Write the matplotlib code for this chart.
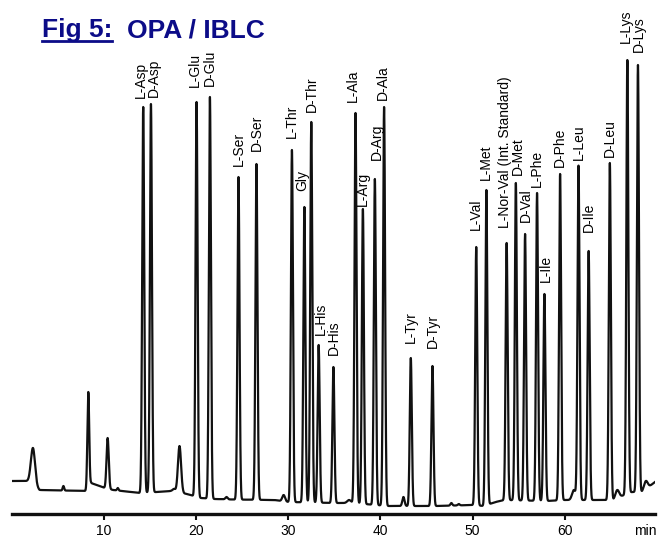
import numpy as np
import matplotlib.pyplot as plt
from matplotlib.lines import Line2D

plt.rcParams['font.family'] = ['Liberation Sans', 'DejaVu Sans']

# labelled peaks: name, retention time (min), apex signal (arbitrary units)
peak_names = ['L-Asp', 'D-Asp', 'L-Glu', 'D-Glu', 'L-Ser', 'D-Ser', 'L-Thr', 'Gly',
              'D-Thr', 'L-His', 'D-His', 'L-Ala', 'L-Arg', 'D-Arg', 'D-Ala', 'L-Tyr',
              'D-Tyr', 'L-Val', 'L-Met', 'L-Nor-Val (Int. Standard)', 'D-Met', 'D-Val',
              'L-Phe', 'L-Ile', 'D-Phe', 'L-Leu', 'D-Ile', 'D-Leu', 'L-Lys', 'D-Lys']
peak_rt = [14.26, 15.1, 20.05, 21.5, 24.6, 26.55, 30.4, 31.75, 32.5, 33.3, 34.9,
           37.3, 38.1, 39.4, 40.4, 43.3, 45.65, 50.4, 51.5, 53.7, 54.7, 55.7,
           57.0, 57.8, 59.5, 61.5, 62.6, 64.9, 66.8, 67.95]
peak_apex = [407, 410, 412, 417, 337, 350, 364, 307, 392, 169, 147, 401, 305, 335,
             407, 156, 148, 267, 324, 271, 331, 280, 321, 220, 340, 348, 263, 351,
             454, 449]

# small unlabelled peaks
minor_rt = [2.3, 5.6, 8.3, 10.4, 11.5, 17.6, 18.2, 23.3, 29.5, 36.6, 42.5, 47.7,
            48.5, 61.0, 65.7, 68.8]
minor_apex = [66, 28, 122, 76, 26, 25, 68, 17, 19, 14, 17, 11, 10, 24, 24, 33]
minor_sigma = [0.22, 0.08, 0.1, 0.12, 0.08, 0.15, 0.17, 0.12, 0.15, 0.2, 0.12, 0.1,
               0.1, 0.2, 0.2, 0.2]

# baseline drift
base_t = [0, 2.0, 3.0, 8.25, 8.6, 10.1, 11.0, 13.9, 15.7, 17.3, 19.0, 20.5, 22.0,
          24.0, 28.5, 30.0, 35.0, 37.0, 40.8, 46.0, 50.0, 51.2, 52.5, 53.5, 58.0,
          60.0, 63.0, 65.3, 66.2, 67.3, 68.4, 69.8]
base_v = [33, 33, 24, 23, 31, 26, 24, 21, 22, 23, 20, 16, 15, 14.5, 14, 12, 11, 11,
          8, 8, 9, 8, 12, 14, 13, 14, 14, 14, 18, 22, 22, 32]

# label offsets (pixels) relative to the apex
label_dx = [-2, 3, -2, 0, 0, 0, 0, -2, 1, 2, 0, -3, 0, 2, -1, 0, 0, 0, 0, -2, 2, 1,
            0, 1, 0, 0, 0, 0, -1, 1]
label_gap = [9, 7, 15, 11, 11, 13, 12, 16, 10, 10, 12, 11, 3, 19, 7, 15, 18, 17, 10,
             15, 8, 12, 6, 12, 7, 6, 19, 6, 17, 13]


def main():
    t = np.linspace(0, 69.8, 20000)
    base = np.interp(t, base_t, base_v)
    y = base.copy()
    for rt, apex in zip(peak_rt, peak_apex):
        amp = apex - np.interp(rt, base_t, base_v)
        y += amp * np.exp(-0.5 * ((t - rt) / 0.11) ** 2)
    for rt, apex, s in zip(minor_rt, minor_apex, minor_sigma):
        amp = apex - np.interp(rt, base_t, base_v)
        y += amp * np.exp(-0.5 * ((t - rt) / s) ** 2)

    fig = plt.figure(figsize=(6.65, 5.37), dpi=100)
    ax = fig.add_axes([11.8 / 665, 23 / 537, (655 - 11.8) / 665, 514 / 537])
    ax.plot(t, y, color='#111111', lw=1.6, solid_joinstyle='round')
    ax.set_xlim(0, 69.8)
    ax.set_ylim(0, 514)

    for name, rt, apex, dx, gap in zip(peak_names, peak_rt, peak_apex, label_dx, label_gap):
        ax.annotate(name, xy=(rt, apex), xytext=(dx, gap), textcoords='offset pixels',
                    rotation=90, ha='center', va='bottom', fontsize=10)

    for side in ['left', 'right', 'top']:
        ax.spines[side].set_visible(False)
    ax.spines['bottom'].set_linewidth(2.4)
    ax.spines['bottom'].set_color('#111111')
    ax.set_yticks([])
    ax.set_xticks([10, 20, 30, 40, 50, 60])
    ax.tick_params(axis='x', direction='out', length=4.5, width=1.5, pad=3,
                   labelsize=10, color='#111111')
    ax.text(68.7, -10, 'min', fontsize=10, ha='center', va='top')

    navy = '#0c0c88'
    t1 = fig.text(42 / 665, 1 - 37 / 537, 'Fig 5:', fontsize=19, fontweight='bold',
                  color=navy, ha='left', va='baseline')
    fig.text(127 / 665, 1 - 37 / 537, 'OPA / IBLC', fontsize=19, fontweight='bold',
             color=navy, ha='left', va='baseline')
    fig.canvas.draw()
    bb = t1.get_window_extent().transformed(fig.transFigure.inverted())
    fig.add_artist(Line2D([bb.x0, bb.x1], [1 - 41 / 537] * 2, color=navy, lw=2,
                          transform=fig.transFigure))

    fig.savefig('out.png', dpi=100)


if __name__ == "__main__":
    main()
